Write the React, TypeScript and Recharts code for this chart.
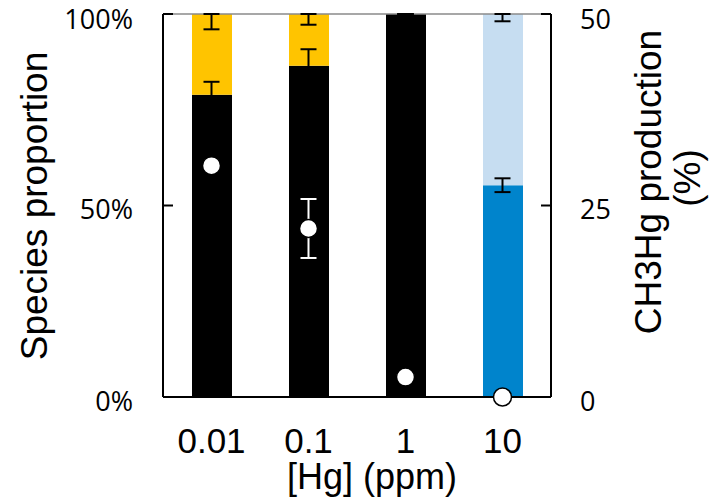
import { ComposedChart, Bar, Cell, Scatter, ErrorBar, XAxis, YAxis, ReferenceLine, Label } from "recharts";

const categories = ["0.01", "0.1", "1", "10"];
// lower segment (black / dark blue) share, %
const lowerShare = [78.9, 86.5, 100, 55.3];
const lowerErr = [3.4, 4.3, 0, 1.8];
const upperErr = [4.0, 2.8, 0, 1.9];
// CH3Hg production, %
const production = [30.2, 22.0, 2.6, 0];
const productionErr = [0, 3.85, 0, 0];
const lowerColors = ["#000000", "#000000", "#000000", "#0084cc"];
const upperColors = ["#ffc400", "#ffc400", "#000000", "#c6ddf1"];
const leftTicks = [0, 50, 100];
const rightTicks = [0, 25, 50];

const data = categories.map((cat, i) => ({
  cat,
  lower: lowerShare[i],
  upper: 100 - lowerShare[i],
  lowerTop: lowerShare[i],
  lowerErr: [lowerErr[i], lowerErr[i]],
  upperTop: 100,
  upperErr: [upperErr[i], 0],
  prod: production[i],
  prodErr: productionErr[i],
}));

const TICK_FONT = { fontFamily: "Open Sans", fontSize: 27, fill: "#000" };
const SANS = "Liberation Sans, Arial, sans-serif";

const Dot = (props: any) => (
  <circle cx={props.cx} cy={props.cy} r={9} fill="#fff" stroke="#000" strokeWidth={1.5} />
);
const NoDot = () => <g />;

export default function App() {
  return (
    <div style={{ position: "absolute", left: 0, top: 0, width: 722, height: 500, background: "#fff" }}>
      <ComposedChart width={722} height={500} data={data} margin={{ top: 14, right: 0, bottom: 0, left: 0 }}>
        <XAxis
          dataKey="cat"
          height={103}
          tickLine={false}
          tickSize={0}
          tickMargin={31}
          axisLine={{ stroke: "#000", strokeWidth: 2 }}
          tick={{ fontFamily: SANS, fontSize: 35, fill: "#000" }}
        >
          <Label
            content={() => (
              <text x={372} y={489} textAnchor="middle" fontFamily={SANS} fontSize={36} fill="#000">
                [Hg] (ppm)
              </text>
            )}
          />
        </XAxis>
        <YAxis
          yAxisId="left"
          width={163}
          domain={[0, 100]}
          ticks={leftTicks}
          tickFormatter={(v) => `${v}%`}
          tickSize={-10}
          tickMargin={40}
          axisLine={{ stroke: "#000", strokeWidth: 2 }}
          tickLine={{ stroke: "#000", strokeWidth: 2 }}
          tick={{ ...TICK_FONT, dy: 4 }}
        >
          <Label
            content={() => (
              <text x={47} y={206} transform="rotate(-90 47 206)" textAnchor="middle" fontFamily={SANS} fontSize={37} fill="#000">
                Species proportion
              </text>
            )}
          />
        </YAxis>
        <YAxis
          yAxisId="right"
          orientation="right"
          width={171}
          domain={[0, 50]}
          ticks={rightTicks}
          tickSize={-10}
          tickMargin={39}
          axisLine={{ stroke: "#000", strokeWidth: 2 }}
          tickLine={{ stroke: "#000", strokeWidth: 2 }}
          tick={{ ...TICK_FONT, dy: 4 }}
        >
          <Label
            content={() => (
              <g fontFamily={SANS} fontSize={37} fill="#000">
                <text x={661} y={182} transform="rotate(-90 661 182)" textAnchor="middle">
                  CH3Hg production
                </text>
                <text x={700} y={178} transform="rotate(-90 700 178)" textAnchor="middle">
                  (%)
                </text>
              </g>
            )}
          />
        </YAxis>
        <ReferenceLine yAxisId="left" y={100} stroke="#8a8a8a" strokeWidth={1.5} />
        <Bar dataKey="lower" stackId="s" yAxisId="left" barSize={40} isAnimationActive={false}>
          {data.map((d, i) => (
            <Cell key={d.cat} fill={lowerColors[i]} />
          ))}
        </Bar>
        <Bar dataKey="upper" stackId="s" yAxisId="left" barSize={40} isAnimationActive={false}>
          {data.map((d, i) => (
            <Cell key={d.cat} fill={upperColors[i]} />
          ))}
        </Bar>
        <Scatter dataKey="lowerTop" yAxisId="left" shape={NoDot} isAnimationActive={false}>
          <ErrorBar dataKey="lowerErr" direction="y" width={8} stroke="#000" strokeWidth={2} />
        </Scatter>
        <Scatter dataKey="upperTop" yAxisId="left" shape={NoDot} isAnimationActive={false}>
          <ErrorBar dataKey="upperErr" direction="y" width={8} stroke="#000" strokeWidth={2} />
        </Scatter>
        <Scatter dataKey="prod" yAxisId="right" shape={Dot} isAnimationActive={false}>
          <ErrorBar dataKey="prodErr" direction="y" width={8} stroke="#fff" strokeWidth={2} />
        </Scatter>
      </ComposedChart>
    </div>
  );
}
